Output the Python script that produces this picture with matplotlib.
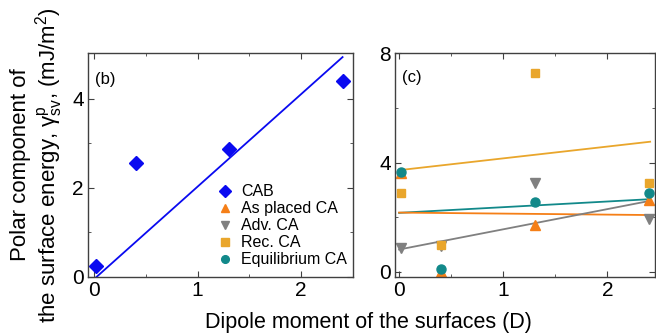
import numpy as np
import matplotlib
matplotlib.use("Agg")
import matplotlib.pyplot as plt

plt.rcParams['font.family'] = ['Liberation Sans', 'DejaVu Sans']
plt.rcParams['mathtext.fontset'] = 'custom'
plt.rcParams['mathtext.rm'] = 'Liberation Sans'
plt.rcParams['mathtext.it'] = 'Liberation Sans:italic'

# dipole moment of the surfaces (D)
dipole = [0.02, 0.4, 1.3, 2.4]

# panel (b): CAB
cab = [0.25, 2.55, 2.88, 4.4]
cab_fit_x = [0.0, 2.4]
cab_fit_y = [-0.05, 4.94]

# panel (c): contact angle based values
as_placed = [3.6, 0.0, 1.73, 2.62]
adv = [0.89, 0.95, 3.24, 1.93]
rec = [2.89, 1.0, 7.29, 3.25]
equil = [3.66, 0.11, 2.56, 2.89]

fit_x = [0.0, 2.41]
as_placed_fit = [2.17, 2.08]
adv_fit = [0.82, 2.60]
rec_fit = [3.72, 4.76]
equil_fit = [2.16, 2.66]

c_cab = '#0a0af0'
c_as = '#f57f17'
c_adv = '#808080'
c_rec = '#e9a62c'
c_eq = '#12898a'
spine_c = '#404040'

fig = plt.figure(figsize=(6.56, 3.36), dpi=100)
ax1 = fig.add_axes([0.134, 0.176, 0.404, 0.666])
ax2 = fig.add_axes([0.602, 0.176, 0.397, 0.666])

for ax in (ax1, ax2):
    for s in ax.spines.values():
        s.set_color(spine_c)
        s.set_linewidth(1.0)
    ax.tick_params(which='both', direction='in', top=True, right=True,
                   color=spine_c, labelsize=15, pad=3)
    ax.tick_params(which='major', length=4)
    ax.tick_params(which='minor', length=2.5)
    ax.set_xticks([0, 1, 2])
    ax.set_xticks([0.5, 1.5], minor=True)

# (b)
ax1.plot(cab_fit_x, cab_fit_y, color=c_cab, lw=1.3)
h_cab, = ax1.plot(dipole, cab, 'D', color=c_cab, ms=7, ls='none')
ax1.set_xlim(-0.06, 2.5)
ax1.set_ylim(0, 5.03)
ax1.set_yticks([0, 2, 4])
ax1.set_yticks([1, 3], minor=True)
ax1.text(0.026, 0.88, '(b)', transform=ax1.transAxes, fontsize=12, va='center')

# (c)
ax2.plot(fit_x, rec_fit, color=c_rec, lw=1.3)
ax2.plot(fit_x, equil_fit, color=c_eq, lw=1.3)
ax2.plot(fit_x, as_placed_fit, color=c_as, lw=1.3)
ax2.plot(fit_x, adv_fit, color=c_adv, lw=1.3)
h_as, = ax2.plot(dipole, as_placed, '^', color=c_as, ms=7, ls='none')
h_adv, = ax2.plot(dipole, adv, 'v', color=c_adv, ms=7, ls='none')
h_rec, = ax2.plot(dipole, rec, 's', color=c_rec, ms=6, ls='none')
h_eq, = ax2.plot(dipole, equil, 'o', color=c_eq, ms=6.5, ls='none')
ax2.set_xlim(-0.04, 2.46)
ax2.set_ylim(-0.18, 8)
ax2.set_yticks([0, 4, 8])
ax2.set_yticks([2, 6], minor=True)
ax2.text(0.026, 0.89, '(c)', transform=ax2.transAxes, fontsize=12, va='center')

ax1.legend([h_cab, h_as, h_adv, h_rec, h_eq],
           ['CAB', 'As placed CA', 'Adv. CA', 'Rec. CA', 'Equilibrium CA'],
           loc='upper left', bbox_to_anchor=(0.493, 0.413), frameon=False,
           fontsize=11.5, handlelength=0.8, handletextpad=0.6,
           labelspacing=0.12, borderpad=0, borderaxespad=0, markerscale=0.85)

fig.text(0.561, 0.04, 'Dipole moment of the surfaces (D)', ha='center',
         va='center', fontsize=15.5)
fig.text(0.057, 0.509,
         'Polar component of\nthe surface energy, γ$^{\\rm p}_{\\rm sv}$, (mJ/m$^2$)',
         rotation=90, ha='center', va='center', fontsize=16, linespacing=1.1,
         multialignment='center')

fig.savefig('out.png', dpi=100)
